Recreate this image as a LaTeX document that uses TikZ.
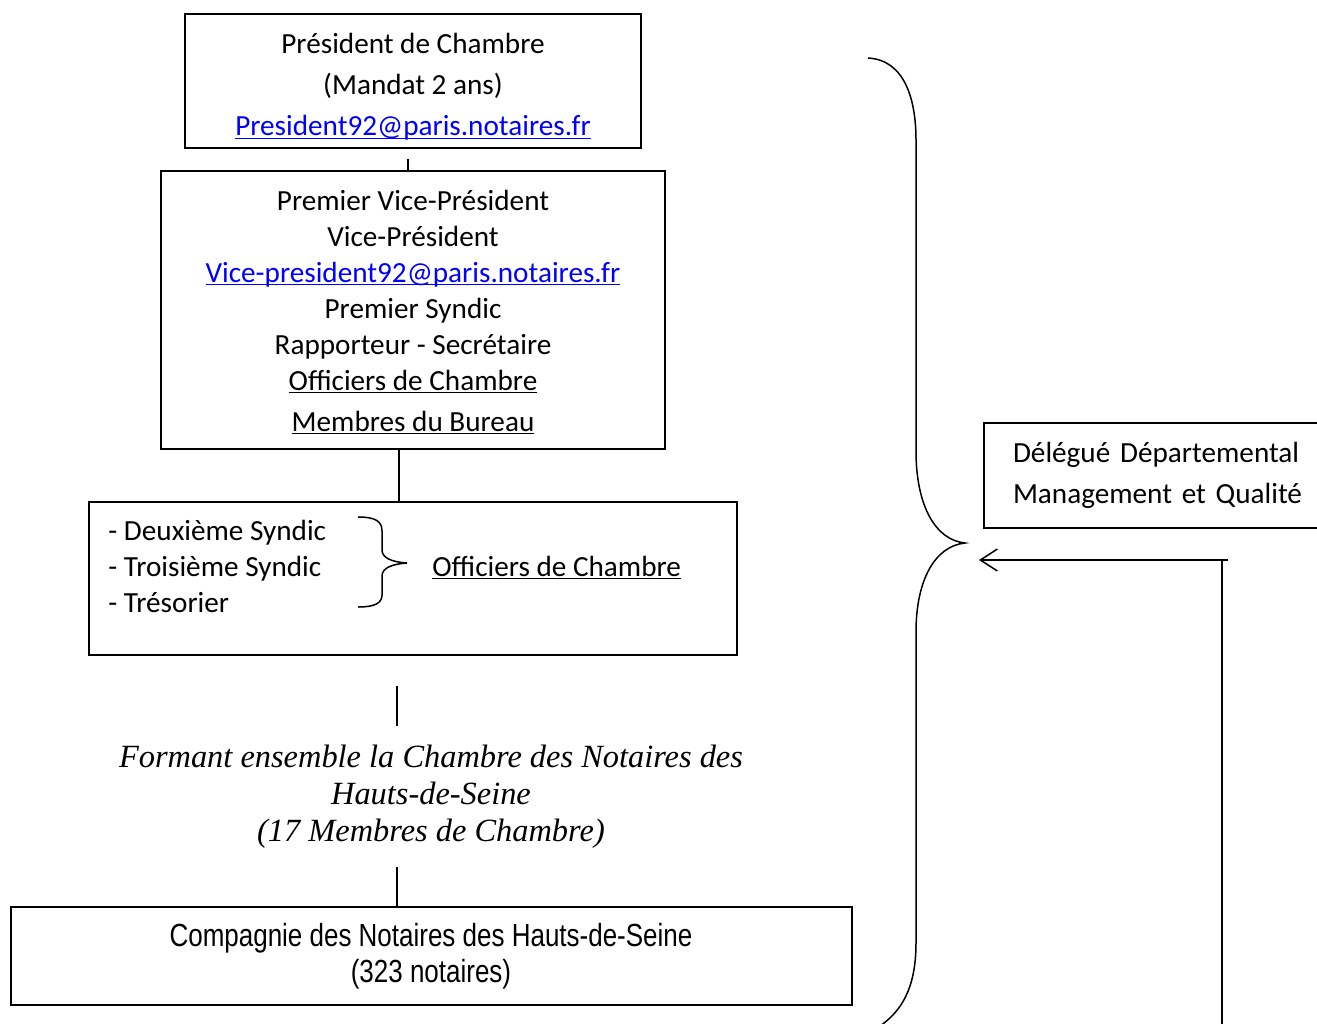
\documentclass[tikz,border=0pt]{standalone}
\usepackage{fontspec}
\setmainfont{Carlito}
\newfontfamily\timesfont{Liberation Serif}
\newfontfamily\narrowfont[FakeStretch=0.812]{Liberation Sans}
\usepackage{tikz}
\usetikzlibrary{positioning}
\usetikzlibrary{arrows.meta}
\newcommand{\underlined}[1]{\underline{\smash{#1}}\vphantom{#1}}
\newcommand{\linkmail}[1]{\textcolor{blue}{\underlined{#1}}}
\tikzstyle{plain} = [draw=none, fill=none, inner sep=0pt, font=\fontsize{14.6}{18}\selectfont]
\tikzstyle{box} = [rectangle, draw, line width=1pt, inner sep=0pt, text centered, align=center, font=\fontsize{14.6}{18}\selectfont]
\tikzstyle{link} = [draw, line width=0.75pt]
\tikzstyle{back} = [draw, line width=0.75pt, -{Straight Barb[length=8.5pt, width=11pt]}]
\tikzstyle{curly} = [draw, line width=0.75pt]

\begin{document}
\begin{tikzpicture}[x=0.5pt, y=-0.5pt]
	\useasboundingbox (0,0) rectangle (1317,1023);
	\clip (0,0) rectangle (1317,1023);
	% place nodes
	\node [box, minimum width=228pt, minimum height=67pt] at (413,81) (N1)
		{\rule{0pt}{16pt}Président de Chambre\\[2.5pt] (Mandat 2 ans)\\[2.5pt] \linkmail{President92@paris.notaires.fr}};
	\node [box, below of=N1, node distance=114.5pt, minimum width=252pt, minimum height=139pt] (N2)
		{\rule{0pt}{12.5pt}Premier Vice-Président\\ Vice-Président\\ \linkmail{Vice-president92@paris.notaires.fr}\\ Premier Syndic\\
		 Rapporteur - Secrétaire\\ \underlined{Officiers de Chambre}\\[2.5pt] \underlined{Membres du Bureau}};
	\node [box, below of=N2, node distance=134.25pt, minimum width=324pt, minimum height=76.5pt] (N3) {};
	\foreach \txt [count=\k] in {Deuxième Syndic, Troisième Syndic, Trésorier}
		\node [plain, anchor=base west] (L\k) at (108,504+36*\k) {- \txt};
	\node [plain, anchor=base west] (N31) at (432,576) {\underlined{Officiers de Chambre}};
	\node [plain, align=center, minimum height=70.5pt, font=\timesfont\itshape\fontsize{16.2}{18.5}\selectfont] (N4) at (431,796.5)
		{Formant ensemble la Chambre des Notaires des\\ Hauts-de-Seine\\ (17 Membres de Chambre)};
	\node [box, below of=N4, node distance=79.75pt, minimum width=420.5pt, minimum height=49pt, font=\narrowfont\fontsize{16}{18}\selectfont] (N5)
		{Compagnie des Notaires des Hauts-de-Seine\\ (323 notaires)};
	\node [box, anchor=west, align=left, text width=180pt, inner xsep=14.5pt, minimum height=52.5pt] (N6) at (983,475.5)
		{Délégué Départemental\\[2.5pt] Management et Qualité};
	\coordinate (B) at (965,543);
	\coordinate (Atip) at (979,560);
	\coordinate (Aend) at (1228,560);
	\coordinate (Acorner) at (1222,560);
	\coordinate (Afoot) at (1222,1030);

	% draw edges
	\path [link] ([xshift=-2.5pt]N2.north) -- ++(0,-11);
	\path [link] ([xshift=-7pt]N2.south) -- ([xshift=-7pt]N2.south |- N3.north);
	\path [link] ([xshift=-17pt]N4.north) -- ++(0,-40);
	\path [link] ([xshift=-17pt]N4.south) -- ([xshift=-17pt]N4.south |- N5.north);
	\path [link] (Afoot) -- (Acorner);
	\path [back] (Aend) -- (Atip);

	% braces
	\path [curly] (358,517) .. controls (375,517) and (382,521) .. (382,531) -- (382,550)
		.. controls (382,558) and (392,562) .. (407,563) .. controls (392,564) and (382,568) .. (382,576)
		-- (382,595) .. controls (382,603) and (375,607) .. (358,607);
	\path [curly] (868,58) .. controls (905,60) and (916,100) .. (916,140) -- (916,451)
		.. controls (916,505) and (935,540) .. (B) .. controls (935,546) and (916,580) .. (916,632)
		-- (916,943) .. controls (916,990) and (900,1012) .. (880,1026);
\end{tikzpicture}
\end{document}
